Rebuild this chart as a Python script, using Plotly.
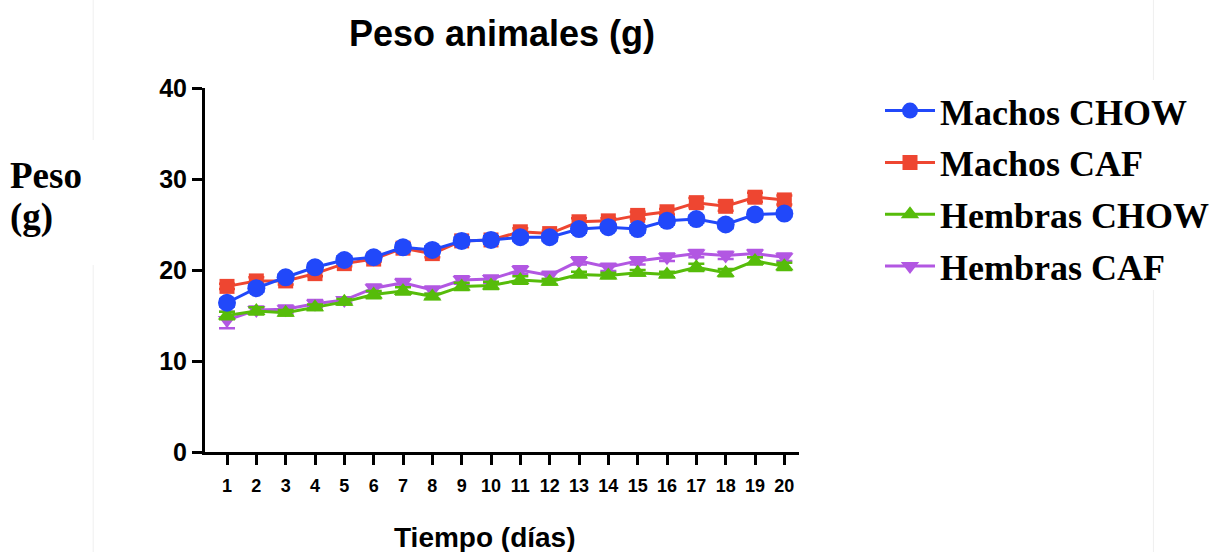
import plotly.graph_objects as go

days = list(range(1, 21))
tick_labels = [str(d) for d in days]

machos_chow = [16.4, 18.0, 19.2, 20.3, 21.1, 21.4, 22.5, 22.2, 23.2, 23.3,
               23.6, 23.6, 24.5, 24.7, 24.5, 25.4, 25.6, 25.0, 26.1, 26.2]
machos_chow_err = [0.4, 0.4, 0.3, 0.4, 0.4, 0.3, 0.4, 0.4, 0.4, 0.4,
                   0.4, 0.4, 0.4, 0.3, 0.4, 0.4, 0.4, 0.4, 0.4, 0.3]
machos_caf = [18.2, 18.8, 18.8, 19.6, 20.7, 21.2, 22.4, 21.8, 23.2, 23.3,
              24.2, 24.0, 25.3, 25.4, 26.0, 26.4, 27.4, 27.0, 28.0, 27.7]
machos_caf_err = [0.3, 0.4, 0.4, 0.3, 0.3, 0.3, 0.3, 0.4, 0.3, 0.3,
                  0.4, 0.3, 0.4, 0.3, 0.4, 0.3, 0.5, 0.5, 0.5, 0.5]
hembras_chow = [15.0, 15.5, 15.3, 15.9, 16.5, 17.3, 17.7, 17.1, 18.2, 18.3,
                18.9, 18.7, 19.5, 19.4, 19.7, 19.5, 20.3, 19.7, 21.0, 20.4]
hembras_chow_err = [0.4, 0.4, 0.3, 0.3, 0.3, 0.4, 0.4, 0.3, 0.4, 0.4,
                    0.4, 0.3, 0.3, 0.3, 0.3, 0.3, 0.4, 0.4, 0.4, 0.4]
hembras_caf = [14.5, 15.6, 15.7, 16.3, 16.7, 18.0, 18.6, 17.8, 18.9, 19.0,
               20.0, 19.4, 21.0, 20.3, 21.0, 21.4, 21.8, 21.6, 21.8, 21.4]
hembras_caf_err = [0.9, 0.4, 0.4, 0.4, 0.3, 0.4, 0.4, 0.4, 0.4, 0.4,
                   0.4, 0.4, 0.4, 0.4, 0.4, 0.4, 0.4, 0.4, 0.4, 0.4]

series = [
    # name, values, errors, color, symbol, size, rank
    ("Hembras CAF", hembras_caf, hembras_caf_err, "#B257E2", "triangle-down", 16, 4),
    ("Hembras CHOW", hembras_chow, hembras_chow_err, "#56BC0A", "triangle-up", 16, 3),
    ("Machos CAF", machos_caf, machos_caf_err, "#EE4631", "square", 15, 2),
    ("Machos CHOW", machos_chow, machos_chow_err, "#2148FA", "circle", 18, 1),
]

fig = go.Figure()
for name, vals, errs, color, sym, size, rank in series:
    fig.add_trace(go.Scatter(
        x=days, y=vals, name=name, mode="lines+markers",
        line=dict(color=color, width=3),
        marker=dict(color=color, symbol=sym, size=size, line=dict(width=0)),
        error_y=dict(type="data", array=errs, color=color, thickness=2.5, width=8),
        legendrank=rank, legendgroup=name,
    ))

fig.update_layout(
    width=1225, height=552,
    margin=dict(l=205, r=425, t=88, b=100),
    paper_bgcolor="white", plot_bgcolor="white",
    title=dict(text="<b>Peso animales (g)</b>", x=502 / 1225, xanchor="center",
               y=1 - 33 / 552, yanchor="middle",
               font=dict(family="Liberation Sans, Arial", size=36, color="black")),
    xaxis=dict(range=[0.25, 20.5], tickmode="array", tickvals=days, ticktext=tick_labels,
               showline=True, linecolor="black", linewidth=3, ticks="outside",
               ticklen=10, tickwidth=3, tickcolor="black", showgrid=False, zeroline=False,
               ticklabelstandoff=5, automargin=False,
               tickfont=dict(family="Liberation Sans, Arial", size=18, color="black", weight="bold")),
    yaxis=dict(range=[0, 40], tickvals=[0, 10, 20, 30, 40],
               showline=True, linecolor="black", linewidth=3, ticks="outside",
               ticklen=10, tickwidth=3, tickcolor="black", showgrid=False, zeroline=False,
               automargin=False,
               tickfont=dict(family="Liberation Sans, Arial", size=25, color="black", weight="bold")),
    legend=dict(x=(880 - 205) / 595, xanchor="left", y=1.02, yanchor="top",
                traceorder="grouped", tracegroupgap=2, itemwidth=50,
                font=dict(family="Liberation Serif, Times New Roman", size=36, color="black", weight="bold"),
                bgcolor="rgba(0,0,0,0)"),
    showlegend=True,
)

fig.add_annotation(text="<b>Tiempo (días)</b>", xref="paper", yref="paper",
                   x=(485 - 205) / 595, xanchor="center", y=-(537 - 452) / 364, yanchor="middle",
                   showarrow=False,
                   font=dict(family="Liberation Sans, Arial", size=28, color="black"))
fig.add_annotation(text="<b>Peso</b>", xref="paper", yref="paper",
                   x=(8 - 205) / 595, xanchor="left", y=1 - (175 - 88) / 364, yanchor="middle",
                   showarrow=False,
                   font=dict(family="Liberation Serif, Times New Roman", size=37, color="black"))
fig.add_annotation(text="<b>(g)</b>", xref="paper", yref="paper",
                   x=(8 - 205) / 595, xanchor="left", y=1 - (217 - 88) / 364, yanchor="middle",
                   showarrow=False,
                   font=dict(family="Liberation Serif, Times New Roman", size=37, color="black"))

# faint vertical border lines present in the reference image
for x0, segs in [(93, [(0, 140), (265, 552)]), (1155, [(0, 80), (290, 552)])]:
    for y0, y1 in segs:
        fig.add_shape(type="line", xref="paper", yref="paper",
                      x0=(x0 - 205) / 595, x1=(x0 - 205) / 595,
                      y0=1 - (y0 - 88) / 364, y1=1 - (y1 - 88) / 364,
                      line=dict(color="#efefef", width=1), layer="below")

fig.write_html("out.html")
